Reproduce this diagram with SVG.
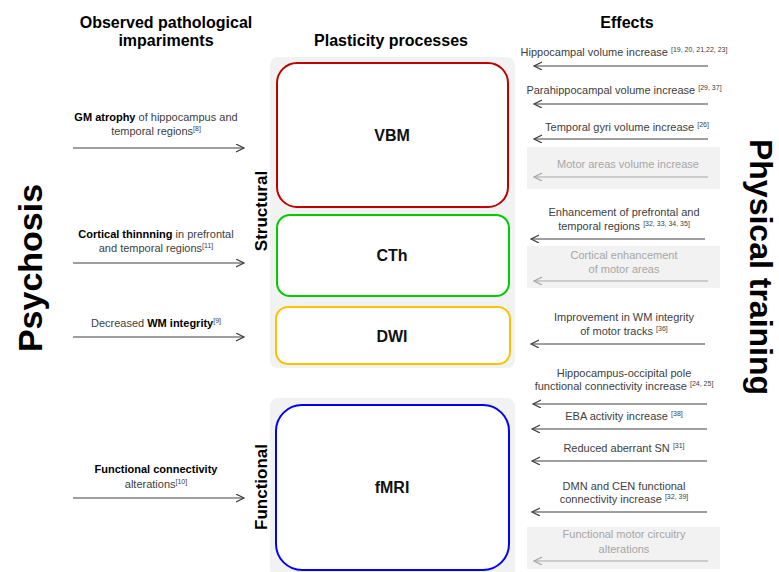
<svg xmlns="http://www.w3.org/2000/svg" width="779" height="572" viewBox="0 0 779 572">
<style>
text{font-family:"Liberation Sans",Arial,sans-serif;}
.h{font-weight:bold;font-size:16px;fill:#000;text-anchor:middle;}
.big{font-weight:bold;font-size:34px;fill:#000;text-anchor:middle;}
.side{font-weight:bold;font-size:17px;fill:#000;text-anchor:middle;}
.nl{font-weight:bold;font-size:16px;fill:#111;text-anchor:middle;}
.t{font-size:11px;fill:#404040;text-anchor:middle;}
.g{font-size:11px;fill:#a6a6a6;text-anchor:middle;}
.b{font-weight:bold;fill:#000;}
.panel{fill:#f2f2f2;}
.box{fill:#fff;stroke-width:2;}
.ar{stroke:#404040;stroke-width:1.2;fill:none;marker-end:url(#ah);}
.arg{stroke:#a6a6a6;stroke-width:1.2;fill:none;marker-end:url(#ahg);}
</style>
<defs>
<marker id="ah" markerUnits="userSpaceOnUse" markerWidth="10" markerHeight="10" refX="8" refY="4" orient="auto"><path d="M0,0 L8,4 L0,8" fill="none" stroke="#404040" stroke-width="1.2"/></marker>
<marker id="ahg" markerUnits="userSpaceOnUse" markerWidth="10" markerHeight="10" refX="8" refY="4" orient="auto"><path d="M0,0 L8,4 L0,8" fill="none" stroke="#a6a6a6" stroke-width="1.2"/></marker>
</defs>
<rect width="779" height="572" fill="#fff"/>

<g id="titles">
<text class="h" x="166" y="28">Observed pathological</text>
<text class="h" x="166" y="46">impariments</text>
<text class="h" x="391" y="46" font-size="15px">Plasticity processes</text>
<text class="h" x="627" y="28">Effects</text>
<text class="big" transform="translate(42,268) rotate(-90)">Psychosis</text>
<text class="big" style="font-size:32px" transform="translate(750,267) rotate(90)">Physical training</text>
</g>

<g id="structural-panel">
<rect class="panel" x="270" y="57" width="245" height="311" rx="8"/>
<text class="side" transform="translate(267,211) rotate(-90)">Structural</text>
</g>
<g id="functional-panel">
<rect class="panel" x="270" y="398" width="245" height="180" rx="8"/>
<text class="side" transform="translate(267,487) rotate(-90)">Functional</text>
</g>

<g id="vbm">
<rect class="box" x="277" y="63" width="231" height="144" rx="20" stroke="#c00000"/>
<text class="nl" x="392" y="141">VBM</text>
</g>
<g id="cth">
<rect class="box" x="277" y="215" width="232" height="81" rx="13" stroke="#00cc00"/>
<text class="nl" x="392" y="261">CTh</text>
</g>
<g id="dwi">
<rect class="box" x="276" y="307" width="234" height="57" rx="12" stroke="#ffc000"/>
<text class="nl" x="392" y="342">DWI</text>
</g>
<g id="fmri">
<rect class="box" x="276" y="405" width="233" height="165" rx="26" stroke="#0000ff"/>
<text class="nl" x="392" y="493">fMRI</text>
</g>

<g id="impairments">
<text class="t" x="156" y="121"><tspan class="b">GM atrophy</tspan> of hippocampus and</text>
<text class="t" x="156" y="135">temporal regions<tspan font-size="7px" dy="-4">[8]</tspan></text>
<text class="t" x="156" y="238"><tspan class="b">Cortical thinnning</tspan> in prefrontal</text>
<text class="t" x="156" y="252">and temporal regions<tspan font-size="7px" dy="-4">[11]</tspan></text>
<text class="t" x="156" y="327">Decreased <tspan class="b">WM integrity</tspan><tspan font-size="7px" dy="-4">[9]</tspan></text>
<text class="t" x="156" y="473"><tspan class="b">Functional connectivity</tspan></text>
<text class="t" x="156" y="488">alterations<tspan font-size="7px" dy="-4">[10]</tspan></text>
</g>

<g id="effects">
<rect class="panel" x="527" y="147" width="193" height="42"/>
<rect class="panel" x="527" y="246" width="193" height="42"/>
<rect class="panel" x="527" y="527" width="193" height="42"/>
<text class="t" x="624" y="56">Hippocampal volume increase <tspan font-size="7px" dy="-4">[19, 20, 21,22, 23]</tspan></text>
<text class="t" x="624" y="94">Parahippocampal volume increase <tspan font-size="7px" dy="-4">[29, 37]</tspan></text>
<text class="t" x="627" y="131">Temporal gyri volume increase <tspan font-size="7px" dy="-4">[26]</tspan></text>
<text class="g" x="628" y="168">Motor areas volume increase</text>
<text class="t" x="624" y="216">Enhancement of prefrontal and</text>
<text class="t" x="624" y="230">temporal regions <tspan font-size="7px" dy="-4">[32, 33, 34, 35]</tspan></text>
<text class="g" x="624" y="259">Cortical enhancement</text>
<text class="g" x="624" y="273">of motor areas</text>
<text class="t" x="624" y="321">Improvement in WM integrity</text>
<text class="t" x="624" y="335">of motor tracks <tspan font-size="7px" dy="-4">[36]</tspan></text>
<text class="t" x="624" y="377">Hippocampus-occipital pole</text>
<text class="t" x="624" y="390">functional connectivity increase <tspan font-size="7px" dy="-4">[24, 25]</tspan></text>
<text class="t" x="624" y="420">EBA activity increase <tspan font-size="7px" dy="-4">[38]</tspan></text>
<text class="t" x="624" y="452">Reduced aberrant SN <tspan font-size="7px" dy="-4">[31]</tspan></text>
<text class="t" x="624" y="490">DMN and CEN functional</text>
<text class="t" x="624" y="503">connectivity increase <tspan font-size="7px" dy="-4">[32, 39]</tspan></text>
<text class="g" x="624" y="538">Functional motor circuitry</text>
<text class="g" x="624" y="553">alterations</text>
</g>

<g id="connectors">
<line class="ar" x1="73" y1="148" x2="244" y2="148"/>
<line class="ar" x1="73" y1="263" x2="244" y2="263"/>
<line class="ar" x1="73" y1="337" x2="244" y2="337"/>
<line class="ar" x1="73" y1="498" x2="244" y2="498"/>
<line class="ar" x1="708" y1="66" x2="534" y2="66"/>
<line class="ar" x1="708" y1="104" x2="534" y2="104"/>
<line class="ar" x1="708" y1="139" x2="534" y2="139"/>
<line class="arg" x1="708" y1="177" x2="534" y2="177"/>
<line class="ar" x1="705" y1="239" x2="531" y2="239"/>
<line class="arg" x1="708" y1="281" x2="534" y2="281"/>
<line class="ar" x1="705" y1="344" x2="531" y2="344"/>
<line class="ar" x1="707" y1="404" x2="533" y2="404"/>
<line class="ar" x1="707" y1="429" x2="532" y2="429"/>
<line class="ar" x1="707" y1="461" x2="532" y2="461"/>
<line class="ar" x1="707" y1="512" x2="532" y2="512"/>
<line class="arg" x1="708" y1="561" x2="534" y2="561"/>
</g>
</svg>
